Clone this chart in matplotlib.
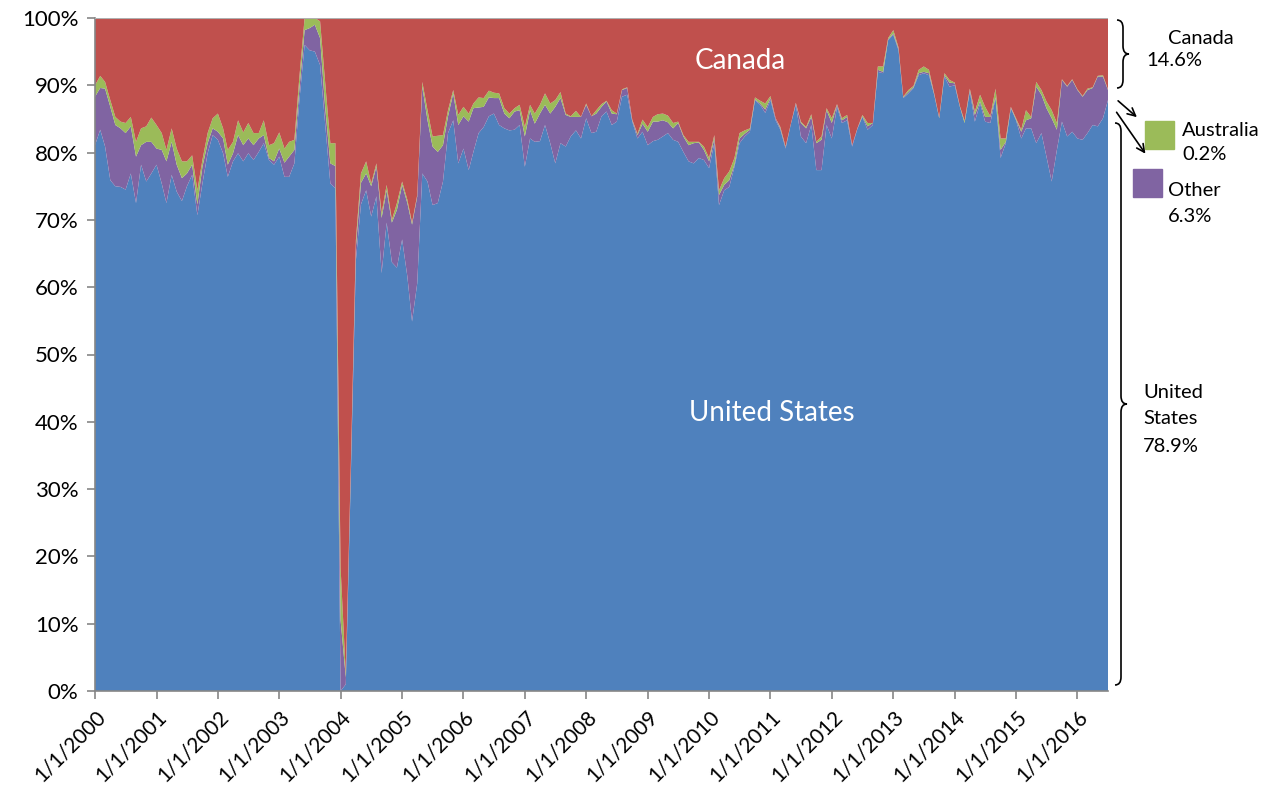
import numpy as np
import pandas as pd
import matplotlib
matplotlib.use('Agg')
import matplotlib.pyplot as plt
import matplotlib.dates as mdates
from matplotlib.path import Path
from matplotlib.patches import PathPatch, Rectangle
from matplotlib.ticker import MultipleLocator, FuncFormatter

plt.rcParams['font.family'] = ['Lato', 'DejaVu Sans']

# monthly share of imports (%), Jan 2000 .. Jul 2016
months = pd.date_range('2000-01-01', '2016-07-01', freq='MS')

us = [
    81.1, 83.4, 80.9, 75.9, 75.0, 74.9, 74.5, 76.9, 72.5, 78.2, 75.7, 76.9,
    78.2, 75.4, 72.5, 76.7, 74.2, 72.8, 75.0, 76.7, 70.7, 75.4, 79.9, 82.6,
    81.9, 79.9, 76.4, 78.7, 79.9, 78.7, 79.9, 78.9, 80.1, 81.4, 78.9, 78.2,
    79.4, 76.4, 76.4, 78.4, 87.8, 96.0, 95.2, 95.0, 93.0, 84.3, 75.4, 74.7,
    0.0, 1.0, 31.0, 64.0, 72.3, 74.4, 70.5, 73.5, 62.1, 69.6, 63.7, 62.9,
    67.1, 61.6, 54.9, 60.6, 76.9, 75.7, 72.2, 72.5, 75.7, 82.9, 84.8, 78.4,
    80.6, 77.4, 80.1, 82.9, 83.8, 85.4, 85.8, 84.1, 83.6, 83.3, 83.4, 84.1,
    77.9, 82.1, 81.6, 81.7, 84.1, 81.4, 78.4, 81.4, 80.9, 82.4, 83.3, 82.1,
    85.1, 82.9, 83.1, 85.4, 86.1, 84.1, 84.6, 88.3, 88.6, 84.6, 82.1, 83.1,
    81.1, 81.7, 81.9, 82.4, 82.9, 81.9, 81.6, 80.1, 78.7, 78.4, 79.2, 78.9,
    77.7, 81.4, 72.2, 74.4, 74.9, 77.9, 81.4, 82.4, 83.1, 87.8, 87.1, 85.9,
    87.8, 84.8, 83.4, 80.6, 84.1, 87.1, 82.4, 81.4, 84.1, 77.4, 77.4, 84.1,
    82.1, 86.8, 84.4, 84.8, 80.9, 83.5, 85.3, 83.4, 84.1, 92.0, 91.8, 96.7,
    97.5, 95.2, 88.1, 88.8, 89.6, 91.5, 91.8, 91.5, 88.6, 85.1, 91.3, 89.8,
    90.0, 86.8, 84.4, 89.1, 84.6, 87.3, 84.6, 84.4, 88.1, 79.2, 81.4, 86.6,
    84.8, 82.1, 83.6, 83.6, 81.4, 82.9, 79.4, 75.7, 80.4, 84.6, 82.4, 83.1,
    82.1, 81.9, 82.9, 84.1, 83.9, 85.1, 87.8,
]

other = [
    7.2, 6.2, 8.6, 10.9, 9.1, 8.7, 8.4, 7.0, 6.9, 2.9, 5.9, 4.7,
    2.4, 5.0, 6.2, 4.9, 4.0, 3.4, 1.9, 1.5, 1.6, 2.5, 1.5, 1.0,
    1.2, 2.2, 1.8, 1.2, 2.7, 2.4, 2.2, 2.2, 2.0, 1.2, 0.3, 0.5,
    1.2, 2.1, 3.0, 2.0, 1.7, 2.2, 3.3, 4.0, 4.0, 2.5, 3.0, 3.3,
    10.5, 1.0, 1.0, 2.0, 3.2, 2.5, 4.5, 4.4, 8.2, 4.8, 5.9, 8.6,
    8.1, 10.9, 14.4, 12.9, 12.9, 9.1, 8.7, 7.6, 5.4, 2.5, 4.0, 5.7,
    4.8, 7.2, 6.5, 3.8, 3.0, 2.8, 2.3, 4.0, 2.2, 1.8, 2.7, 2.2,
    4.5, 4.2, 2.7, 4.1, 3.0, 4.4, 8.4, 6.7, 4.7, 2.9, 2.0, 3.2,
    2.0, 2.5, 2.7, 1.4, 1.5, 1.7, 1.1, 1.0, 1.0, 0.2, 0.5, 1.2,
    2.0, 2.9, 2.7, 2.4, 1.6, 1.7, 2.8, 2.3, 2.4, 3.0, 2.3, 1.5,
    1.0, 0.7, 1.5, 0.8, 1.0, 0.3, 0.7, 0.4, 0.3, 0.1, 0.2, 0.5,
    0.3, 0.3, 0.2, 0.2, 0.0, 0.2, 2.0, 2.2, 1.2, 4.0, 4.5, 2.2,
    2.3, 0.3, 0.4, 0.5, 0.2, 0.1, 0.1, 0.5, 0.3, 0.3, 0.2, 0.1,
    0.2, 0.2, 0.1, 0.2, 0.1, 0.3, 0.2, 0.3, 0.1, 0.0, 0.2, 0.6,
    0.3, 0.0, 0.0, 0.2, 1.0, 0.3, 0.7, 0.9, 0.1, 1.2, 0.2, 0.1,
    0.1, 1.0, 1.2, 1.5, 8.4, 5.7, 7.2, 9.4, 3.0, 6.2, 7.4, 7.7,
    7.2, 6.4, 6.4, 5.5, 7.4, 6.2, 1.5,
]

australia = [
    1.7, 1.8, 1.0, 1.0, 1.2, 1.0, 1.5, 1.4, 2.2, 2.5, 2.3, 3.6,
    3.5, 2.5, 1.7, 2.0, 2.4, 2.5, 1.8, 1.4, 2.1, 1.0, 1.5, 1.5,
    2.7, 1.5, 2.2, 1.7, 2.2, 1.9, 2.3, 1.8, 0.8, 2.2, 1.9, 2.7,
    2.4, 2.1, 2.2, 1.5, 1.8, 1.8, 1.5, 1.0, 2.5, 3.7, 3.0, 3.4,
    7.8, 0.5, 0.5, 1.0, 1.4, 1.8, 0.4, 0.5, 0.7, 0.8, 0.4, 1.0,
    0.5, 0.5, 0.3, 0.2, 0.7, 1.5, 1.5, 2.4, 1.5, 0.9, 0.5, 1.5,
    1.4, 1.2, 0.7, 1.5, 1.3, 1.0, 0.8, 0.7, 0.8, 0.7, 0.5, 0.8,
    1.4, 0.8, 1.5, 1.3, 1.7, 1.5, 1.0, 0.9, 0.2, 0.1, 0.9, 0.0,
    0.2, 0.0, 0.5, 0.4, 0.1, 0.5, 0.1, 0.1, 0.1, 0.1, 0.2, 0.6,
    0.7, 0.7, 1.1, 1.0, 1.0, 0.8, 0.2, 0.2, 0.5, 0.2, 0.1, 0.5,
    0.5, 0.5, 0.7, 1.0, 1.3, 1.0, 0.8, 0.5, 0.2, 0.3, 0.4, 0.9,
    0.3, 0.0, 0.2, 0.1, 0.0, 0.1, 0.2, 0.2, 0.4, 0.2, 0.5, 0.3,
    0.7, 0.1, 0.3, 0.3, 0.0, 0.0, 0.2, 0.5, 0.0, 0.5, 0.8, 0.2,
    0.5, 0.2, 0.1, 0.3, 0.2, 0.5, 0.8, 0.5, 0.1, 0.1, 0.3, 0.4,
    0.1, 0.1, 0.3, 0.2, 0.5, 1.0, 1.5, 0.1, 1.3, 1.7, 0.5, 0.1,
    0.2, 0.3, 1.5, 0.2, 0.7, 0.7, 1.0, 1.2, 1.0, 0.1, 0.1, 0.1,
    0.1, 0.1, 0.2, 0.1, 0.1, 0.2, 0.1,
]

canada = [
    10.0, 8.6, 9.5, 12.2, 14.7, 15.4, 15.6, 14.7, 18.4, 16.4, 16.1, 14.8,
    15.9, 17.1, 19.6, 16.4, 19.4, 21.3, 21.3, 20.4, 25.6, 21.1, 17.1, 14.9,
    14.2, 16.4, 19.6, 18.4, 15.2, 17.0, 15.6, 17.1, 17.1, 15.2, 18.9, 18.6,
    17.0, 19.4, 18.4, 18.1, 8.7, 0.0, 0.0, 0.0, 0.5, 9.5, 18.6, 18.6,
    81.7, 97.5, 67.5, 33.0, 23.1, 21.3, 24.6, 21.6, 29.0, 24.8, 30.0, 27.5,
    24.3, 27.0, 30.4, 26.3, 9.5, 13.7, 17.6, 17.5, 17.4, 13.7, 10.7, 14.4,
    13.2, 14.2, 12.7, 11.8, 11.9, 10.8, 11.1, 11.2, 13.4, 14.2, 13.4, 12.9,
    16.2, 12.9, 14.2, 12.9, 11.2, 12.7, 12.2, 11.0, 14.2, 14.6, 13.8, 14.7,
    12.7, 14.6, 13.7, 12.8, 12.3, 13.7, 14.2, 10.6, 10.3, 15.1, 17.2, 15.1,
    16.2, 14.7, 14.3, 14.2, 14.5, 15.6, 15.4, 17.4, 18.4, 18.4, 18.4, 19.1,
    20.8, 17.4, 25.6, 23.8, 22.8, 20.8, 17.1, 16.7, 16.4, 11.8, 12.3, 12.7,
    11.6, 14.9, 16.2, 19.1, 15.9, 12.6, 15.4, 16.2, 14.3, 18.4, 17.6, 13.4,
    14.9, 12.8, 14.9, 14.4, 18.9, 16.4, 14.4, 15.6, 15.6, 7.2, 7.2, 3.0,
    1.8, 4.4, 11.7, 10.7, 10.1, 7.7, 7.2, 7.7, 11.2, 14.8, 8.2, 9.2,
    9.6, 13.1, 15.3, 10.5, 13.9, 11.4, 13.2, 14.6, 10.5, 17.9, 17.9, 13.2,
    14.9, 16.6, 13.7, 14.7, 9.5, 10.7, 12.4, 13.7, 15.6, 9.1, 10.1, 9.1,
    10.6, 11.6, 10.5, 10.3, 8.6, 8.5, 10.6,
]

colors = ['#4F81BD', '#8064A2', '#9BBB59', '#C0504D']
W, H = 1281, 806


def brace(axo, x, y0, y1, ymid, w, lw=1.2):
    # right-pointing curly brace in pixel coords
    xm = x + w / 2
    r = min(8, (ymid - y0) / 2, (y1 - ymid) / 2)
    verts = [(x, y0), (xm, y0), (xm, y0 + r),
             (xm, ymid - r), (xm, ymid), (x + w, ymid),
             (xm, ymid), (xm, ymid + r),
             (xm, y1 - r), (xm, y1), (x, y1)]
    codes = [Path.MOVETO, Path.CURVE3, Path.CURVE3,
             Path.LINETO, Path.CURVE3, Path.CURVE3,
             Path.CURVE3, Path.CURVE3,
             Path.LINETO, Path.CURVE3, Path.CURVE3]
    axo.add_patch(PathPatch(Path(verts, codes), fill=False, lw=lw, color='black'))


fig = plt.figure(figsize=(W / 100, H / 100), dpi=100)
ax = fig.add_axes([95 / W, 1 - 691 / H, (1108 - 95) / W, (691 - 18) / H])

ax.stackplot(months, us, other, australia, canada, colors=colors, linewidth=0)
ax.set_xlim(months[0], months[-1])
ax.set_ylim(0, 100)
ax.axhline(100, color='#B0B0B0', lw=1.5, zorder=5)

for s in ['top', 'right']:
    ax.spines[s].set_visible(False)
for s in ['left', 'bottom']:
    ax.spines[s].set_color('#868686')
    ax.spines[s].set_linewidth(1.2)

ax.yaxis.set_major_locator(MultipleLocator(10))
ax.yaxis.set_major_formatter(FuncFormatter(lambda v, p: '%d%%' % v))
ax.xaxis.set_major_locator(mdates.YearLocator())
ax.xaxis.set_major_formatter(FuncFormatter(lambda v, p: '1/1/%d' % mdates.num2date(v).year))
ax.tick_params(axis='both', direction='out', length=6, color='#868686', width=1.2)
ax.tick_params(axis='y', labelsize=16, pad=6)
ax.tick_params(axis='x', labelsize=15, pad=5)
for lab in ax.get_xticklabels():
    lab.set_rotation(45)
    lab.set_ha('right')
    lab.set_rotation_mode('anchor')

# overlay in pixel coordinates for the annotations
ov = fig.add_axes([0, 0, 1, 1])
ov.set_xlim(0, W)
ov.set_ylim(H, 0)
ov.axis('off')

ov.text(740, 61, 'Canada', color='white', fontsize=20, ha='center', va='center')
ov.text(772, 413, 'United States', color='white', fontsize=20, ha='center', va='center')

brace(ov, 1117, 20, 88, 54, 12)
ov.text(1168, 39, 'Canada', fontsize=14.5, va='center')
ov.text(1146, 61, '14.6%', fontsize=14.5, va='center')

ov.annotate('', xy=(1139, 119), xytext=(1116, 99),
            arrowprops=dict(arrowstyle='->', lw=1.2, color='black', mutation_scale=14))
ov.annotate('', xy=(1147, 156), xytext=(1115, 110),
            arrowprops=dict(arrowstyle='->', lw=1.2, color='black', mutation_scale=14))

ov.add_patch(Rectangle((1145, 121), 29, 28, color=colors[2]))
ov.text(1182, 131, 'Australia', fontsize=14.5, va='center')
ov.text(1182, 155, '0.2%', fontsize=14.5, va='center')
ov.add_patch(Rectangle((1133, 169), 29, 28, color=colors[1]))
ov.text(1168, 191, 'Other', fontsize=14.5, va='center')
ov.text(1168, 217, '6.3%', fontsize=14.5, va='center')

brace(ov, 1115, 123, 685, 404, 12)
ov.text(1143, 393, 'United', fontsize=14.5, va='center')
ov.text(1143, 418, 'States', fontsize=14.5, va='center')
ov.text(1143, 447, '78.9%', fontsize=14.5, va='center')

plt.savefig('out.png', dpi=100)
